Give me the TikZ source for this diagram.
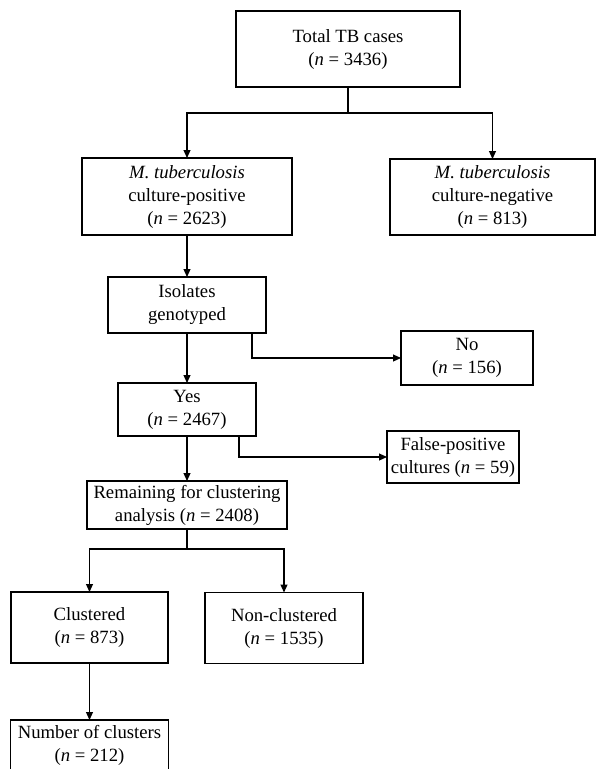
\documentclass[tikz,border=0pt]{standalone}
\usepackage{fontspec}
\setmainfont{Liberation Serif}
\usetikzlibrary{positioning,arrows.meta}

\begin{document}
\begin{tikzpicture}
[box/.style={draw=black,rectangle,align=center,inner sep=0pt,outer sep=0pt,
   font=\fontsize{18.7}{23}\selectfont},
 arr/.style={-{Triangle[length=8pt,width=7pt]}},
 line width=1.1pt]

\useasboundingbox (0,0) rectangle (597pt,-769pt);

% top
\node[box,minimum width=224pt,minimum height=76pt] (total) at (348pt,-49pt)
  {Total TB cases\\(\textit{n} = 3436)};

% culture
\node[box,minimum width=210pt,minimum height=77pt] (cpos)
  [on grid,below left=147.5pt and 161pt of total]
  {\textit{M. tuberculosis}\\culture-positive\\(\textit{n} = 2623)};
\node[box,minimum width=205pt,minimum height=76pt] (cneg)
  [on grid,below right=148pt and 144.5pt of total]
  {\textit{M. tuberculosis}\\culture-negative\\(\textit{n} = 813)};

% genotyping
\node[box,minimum width=158pt,minimum height=56pt] (iso)
  [on grid,below=108.5pt of cpos]                  {Isolates\\genotyped};
\node[box,minimum width=132pt,minimum height=54pt] (no)
  [on grid,below right=53pt and 280pt of iso]       {No\\(\textit{n} = 156)};
\node[box,minimum width=138pt,minimum height=53pt] (yes)
  [on grid,below=104.5pt of iso]                    {Yes\\(\textit{n} = 2467)};
\node[box,minimum width=132pt,minimum height=52pt] (fp)
  [on grid,below right=47.5pt and 266pt of yes]     {False-positive\\cultures (\textit{n} = 59)};
\node[box,minimum width=200pt,minimum height=48pt] (rem)
  [on grid,below=95.5pt of yes]                     {Remaining for clustering\\analysis (\textit{n} = 2408)};

% clustering
\node[box,minimum width=157pt,minimum height=71pt] (clus)
  [on grid,below left=122.5pt and 97.5pt of rem]    {Clustered\\(\textit{n} = 873)};
\node[box,minimum width=158pt,minimum height=71pt] (nonc)
  [on grid,below right=123pt and 97pt of rem]       {Non-clustered\\(\textit{n} = 1535)};
\node[box,minimum width=158pt,minimum height=50pt] (num)
  [on grid,below=117.5pt of clus]                   {Number of clusters\\(\textit{n} = 212)};

\draw (total.south) -- ++(0,-26pt) coordinate (tsplit);
\draw[arr] (tsplit) -| (cpos.north);
\draw[arr] (tsplit) -| (cneg.north);

\draw[arr] (cpos) -- (iso);
\draw[arr] (iso)  -- (yes);
\draw[arr] ([xshift=-14pt]iso.south east) |- (no.west);
\draw[arr] (yes)  -- (rem);
\draw[arr] ([xshift=-17pt]yes.south east) |- (fp.west);

\draw (rem.south) -- ++(0,-20pt) coordinate (rsplit);
\draw[arr] (rsplit) -| (clus.north);
\draw[arr] (rsplit) -| (nonc.north);

\draw[arr] (clus) -- (num);

\end{tikzpicture}
\end{document}
